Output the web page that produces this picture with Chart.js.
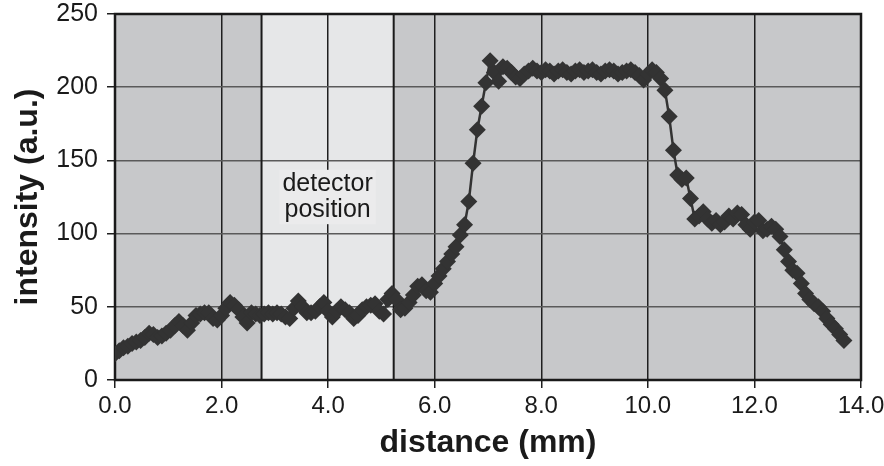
<!DOCTYPE html>
<html>
<head>
<meta charset="utf-8">
<script src="https://cdn.jsdelivr.net/npm/chart.js@4.4.1/dist/chart.umd.min.js"></script>
<style>
  html, body { margin: 0; padding: 0; background: #fff; }
  #wrap { width: 884px; height: 466px; }
</style>
</head>
<body>
<div id="wrap"><canvas id="profileCanvas" width="884" height="466"></canvas></div>
<script>
// distance along the profile (mm)
var distance = [
  0.00, 0.08, 0.16, 0.24, 0.32, 0.40, 0.48, 0.56, 0.64, 0.72,
  0.80, 0.88, 0.96, 1.04, 1.12, 1.20, 1.28, 1.36, 1.44, 1.52,
  1.60, 1.68, 1.76, 1.84, 1.92, 2.00, 2.08, 2.16, 2.24, 2.32,
  2.40, 2.48, 2.56, 2.64, 2.72, 2.80, 2.88, 2.96, 3.04, 3.12,
  3.20, 3.28, 3.36, 3.44, 3.52, 3.60, 3.68, 3.76, 3.84, 3.92,
  4.00, 4.08, 4.16, 4.24, 4.32, 4.40, 4.48, 4.56, 4.64, 4.72,
  4.80, 4.88, 4.96, 5.04, 5.12, 5.20, 5.28, 5.36, 5.44, 5.52,
  5.60, 5.68, 5.76, 5.84, 5.92, 6.00, 6.08, 6.16, 6.24, 6.32,
  6.40, 6.48, 6.56, 6.64, 6.72, 6.80, 6.88, 6.96, 7.04, 7.12,
  7.20, 7.28, 7.36, 7.44, 7.52, 7.60, 7.68, 7.76, 7.84, 7.92,
  8.00, 8.08, 8.16, 8.24, 8.32, 8.40, 8.48, 8.56, 8.64, 8.72,
  8.80, 8.88, 8.96, 9.04, 9.12, 9.20, 9.28, 9.36, 9.44, 9.52,
  9.60, 9.68, 9.76, 9.84, 9.92, 10.00, 10.08, 10.16, 10.24, 10.32,
  10.40, 10.48, 10.56, 10.64, 10.72, 10.80, 10.88, 10.96, 11.04, 11.12,
  11.20, 11.28, 11.36, 11.44, 11.52, 11.60, 11.68, 11.76, 11.84, 11.92,
  12.00, 12.08, 12.16, 12.24, 12.32, 12.40, 12.48, 12.56, 12.64, 12.72,
  12.80, 12.88, 12.96, 13.04, 13.12, 13.20, 13.28, 13.36, 13.44, 13.52,
  13.60, 13.68
];

// intensity (a.u.) at each distance
var intensity = [
  18, 20, 22, 23, 25, 26, 27, 29, 32, 31,
  29, 30, 32, 34, 37, 40, 37, 34, 39, 44,
  45, 46, 46, 42, 41, 44, 49, 53, 51, 48,
  43, 39, 46, 45, 44, 45, 46, 45, 46, 45,
  43, 42, 49, 54, 50, 46, 46, 47, 50, 53,
  47, 43, 47, 50, 48, 46, 42, 44, 48, 50,
  51, 52, 47, 45, 55, 59, 55, 48, 49, 53,
  58, 64, 65, 61, 60, 66, 71, 76, 81, 86,
  91, 99, 106, 122, 148, 171, 187, 203, 218, 210,
  204, 214, 213, 210, 207, 206, 209, 211, 213, 211,
  210, 212, 211, 209, 211, 212, 210, 209, 211, 212,
  210, 211, 212, 210, 209, 211, 212, 211, 209, 210,
  211, 212, 210, 208, 205, 209, 212, 210, 206, 198,
  180, 157, 140, 137, 138, 124, 110, 112, 115, 110,
  107, 109, 106, 108, 112, 110, 114, 113, 106, 103,
  108, 109, 102, 103, 105, 103, 98, 89, 81, 75,
  73, 66, 59, 55, 52, 50, 47, 42, 38, 35,
  31, 27
];

var xTickValues = [0, 2, 4, 6, 8, 10, 12, 14];
var yTickValues = [0, 50, 100, 150, 200, 250];

// shaded band where the detector sits (mm)
var detectorStart = 2.75;
var detectorEnd = 5.23;
var detectorLabel = ['detector', 'position'];

var points = distance.map(function (d, i) {
  return { x: d, y: intensity[i] };
});

// gray plot background, light detector band, frame and the label box
var plotDecor = {
  id: 'plotDecor',
  beforeDraw: function (chart) {
    var ctx = chart.ctx;
    var a = chart.chartArea;
    var xs = chart.scales.x;
    ctx.save();
    ctx.fillStyle = '#c7c8ca';
    ctx.fillRect(a.left, a.top, a.right - a.left, a.bottom - a.top);
    var x1 = xs.getPixelForValue(detectorStart);
    var x2 = xs.getPixelForValue(detectorEnd);
    ctx.fillStyle = '#e6e7e8';
    ctx.fillRect(x1, a.top, x2 - x1, a.bottom - a.top);
    ctx.restore();
  },
  beforeDatasetsDraw: function (chart) {
    var ctx = chart.ctx;
    var a = chart.chartArea;
    var xs = chart.scales.x;
    var ys = chart.scales.y;
    ctx.save();
    var x1 = xs.getPixelForValue(detectorStart);
    var x2 = xs.getPixelForValue(detectorEnd);
    ctx.strokeStyle = '#1a1a1a';
    ctx.lineWidth = 2;
    ctx.beginPath();
    ctx.moveTo(x1, a.top); ctx.lineTo(x1, a.bottom);
    ctx.moveTo(x2, a.top); ctx.lineTo(x2, a.bottom);
    ctx.stroke();

    // label with its own light box
    var cx = (x1 + x2) / 2;
    ctx.font = '25px "Liberation Sans", Arial, sans-serif';
    var w = Math.max(ctx.measureText(detectorLabel[0]).width, ctx.measureText(detectorLabel[1]).width);
    var yA = ys.getPixelForValue(134);
    var yB = ys.getPixelForValue(116);
    ctx.fillStyle = '#ebebec';
    ctx.fillRect(cx - w / 2 - 3, yA - 14, w + 6, yB - yA + 28);
    ctx.fillStyle = '#1a1a1a';
    ctx.textAlign = 'center';
    ctx.textBaseline = 'middle';
    ctx.fillText(detectorLabel[0], cx, yA);
    ctx.fillText(detectorLabel[1], cx, yB);

    ctx.strokeStyle = '#1a1a1a';
    ctx.lineWidth = 2.5;
    ctx.strokeRect(a.left, a.top, a.right - a.left, a.bottom - a.top);
    ctx.restore();
  }
};

var ctx = document.getElementById('profileCanvas').getContext('2d');
var profileChart = new Chart(ctx, {
  type: 'scatter',
  data: {
    datasets: [{
      label: 'intensity',
      data: points,
      showLine: true,
      borderColor: '#333333',
      borderWidth: 2.5,
      backgroundColor: '#333333',
      pointStyle: 'rectRot',
      pointRadius: 8.5,
      pointBorderWidth: 0,
      pointHoverRadius: 8.5,
      tension: 0
    }]
  },
  options: {
    responsive: false,
    animation: false,
    events: [],
    layout: { padding: { left: 0, right: 23, top: 14, bottom: 0 } },
    plugins: {
      legend: { display: false },
      tooltip: { enabled: false }
    },
    scales: {
      x: {
        type: 'linear',
        min: 0,
        max: 14,
        afterBuildTicks: function (scale) {
          scale.ticks = xTickValues.map(function (v) { return { value: v }; });
        },
        afterFit: function (scale) {
          scale.height = 86;
          scale.paddingRight = 0;
        },
        grid: {
          color: '#1f1f1f',
          lineWidth: 1.5,
          tickLength: 8,
          tickColor: '#1f1f1f'
        },
        border: { display: false },
        ticks: {
          color: '#1a1a1a',
          padding: 4,
          maxRotation: 0,
          font: { family: '"Liberation Sans", Arial, sans-serif', size: 24 },
          callback: function (v) { return Number(v).toFixed(1); }
        },
        title: {
          display: true,
          text: 'distance (mm)',
          color: '#1a1a1a',
          padding: { top: 0, bottom: 4 },
          font: { family: '"Liberation Sans", Arial, sans-serif', size: 32, weight: 'bold' }
        }
      },
      y: {
        type: 'linear',
        min: 0,
        max: 250,
        afterBuildTicks: function (scale) {
          scale.ticks = yTickValues.map(function (v) { return { value: v }; });
        },
        afterFit: function (scale) {
          scale.width = 115;
          scale.paddingTop = 0;
        },
        grid: {
          color: '#5a5a5a',
          lineWidth: 1.5,
          tickLength: 8,
          tickColor: '#1f1f1f'
        },
        border: { display: false },
        ticks: {
          color: '#1a1a1a',
          padding: 9,
          font: { family: '"Liberation Sans", Arial, sans-serif', size: 25 }
        },
        title: {
          display: true,
          text: 'intensity (a.u.)',
          color: '#1a1a1a',
          padding: { top: 9, bottom: 0 },
          font: { family: '"Liberation Sans", Arial, sans-serif', size: 32, weight: 'bold' }
        }
      }
    }
  },
  plugins: [plotDecor]
});
</script>
</body>
</html>
